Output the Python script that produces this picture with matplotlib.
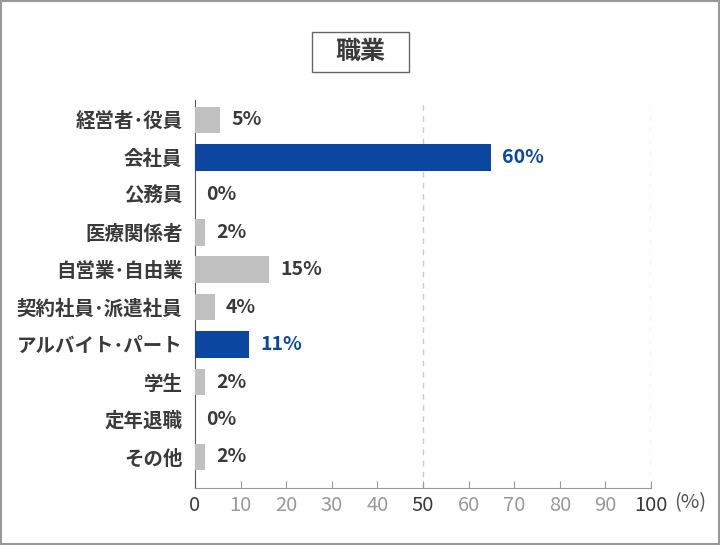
import matplotlib
matplotlib.use("Agg")
import matplotlib.pyplot as plt
from matplotlib.patches import Rectangle

plt.rcParams['font.family'] = ['Noto Sans CJK JP', 'DejaVu Sans']

categories = ["経営者･役員", "会社員", "公務員", "医療関係者", "自営業･自由業",
              "契約社員･派遣社員", "アルバイト･パート", "学生", "定年退職", "その他"]
# bar lengths as drawn in the picture, and the printed labels
bar_values = [5.5, 65, 0, 2.2, 16.3, 4.4, 11.9, 2.2, 0, 2.2]
value_labels = ["5%", "60%", "0%", "2%", "15%", "4%", "11%", "2%", "0%", "2%"]
highlight = [False, True, False, False, False, False, True, False, False, False]
xticks = [0, 10, 20, 30, 40, 50, 60, 70, 80, 90, 100]

blue = "#0b47a0"
gray = "#c0c0c0"
text_dark = "#3a3a3a"

fig = plt.figure(figsize=(7.2, 5.45), dpi=100)
ax = fig.add_axes([195 / 720, 1 - 488 / 545, 456 / 720, 388 / 545])

y = list(range(len(categories)))
colors = [blue if h else gray for h in highlight]
ax.barh(y, bar_values, height=0.71, color=colors, zorder=3)

for i, (v, lab, h) in enumerate(zip(bar_values, value_labels, highlight)):
    ax.text(v + 2.4, i, lab, va="center", ha="left", fontsize=14,
            fontweight="bold", color=blue if h else text_dark)

ax.set_xlim(0, 100)
ax.set_ylim(9.83, -0.53)
ax.set_yticks(y)
ax.set_yticklabels(categories, fontsize=14, fontweight="bold", color=text_dark)
ax.tick_params(axis="y", length=0, pad=9)

ax.set_xticks(xticks)
ax.set_xticklabels([str(t) for t in xticks], fontsize=14.5)
for t, lab in zip(xticks, ax.get_xticklabels()):
    lab.set_color(text_dark if t in (0, 50, 100) else "#999999")
ax.tick_params(axis="x", direction="in", length=5, color="#999999", pad=5)

for g in (50, 100):
    ax.axvline(g, color="#cccccc", linestyle=(0, (4, 4)), linewidth=1, zorder=1)

for s in ("top", "right"):
    ax.spines[s].set_visible(False)
ax.spines["left"].set_color("#555555")
ax.spines["bottom"].set_color("#999999")

fig.text(674 / 720, 1 - 503 / 545, "(%)", fontsize=14.5, color="#555555",
         ha="left", va="center")

# title box
fig.patches.append(Rectangle((312 / 720, 1 - 72 / 545), 97 / 720, 40 / 545,
                             transform=fig.transFigure, fill=False,
                             edgecolor="#666666", linewidth=1))
fig.text(360.5 / 720, 1 - 52 / 545, "職業", fontsize=18, fontweight="bold",
         color=text_dark, ha="center", va="center")

# outer frame
fig.patches.append(Rectangle((0.001, 0.001), 0.997, 0.997, transform=fig.transFigure,
                             fill=False, edgecolor="#999999", linewidth=1.5))

fig.savefig("out.png", dpi=100)
